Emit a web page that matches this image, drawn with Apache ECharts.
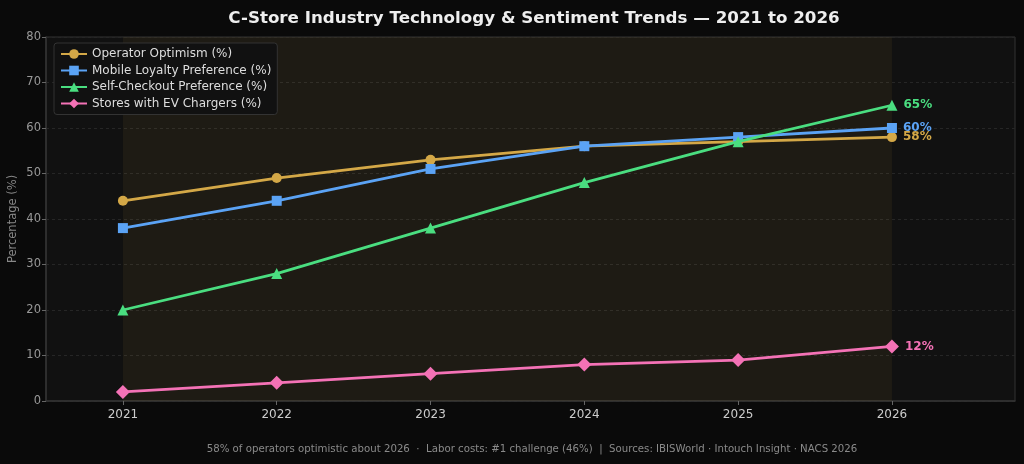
<!DOCTYPE html>
<html><head><meta charset="utf-8">
<script src="https://cdn.jsdelivr.net/npm/echarts@6/dist/echarts.min.js"></script>
<style>html,body{margin:0;padding:0;background:#0a0a0a;}#c{width:1024px;height:464px;}</style>
</head><body><div id="c"></div>
<script>
const years = [2021, 2022, 2023, 2024, 2025, 2026];
const optimism = [44, 49, 53, 56, 57, 58];
const mobile = [38, 44, 51, 56, 58, 60];
const selfCheckout = [20, 28, 38, 48, 57, 65];
const evChargers = [2, 4, 6, 8, 9, 12];
const yTicks = [0, 10, 20, 30, 40, 50, 60, 70, 80];

const F = '"DejaVu Sans"';
const defs = [
  {name: 'Operator Optimism (%)', data: optimism, color: '#d4a847', symbol: 'circle', size: 10},
  {name: 'Mobile Loyalty Preference (%)', data: mobile, color: '#5ba3f5', symbol: 'rect', size: 10},
  {name: 'Self-Checkout Preference (%)', data: selfCheckout, color: '#4ade80', symbol: 'triangle', size: 11},
  {name: 'Stores with EV Chargers (%)', data: evChargers, color: '#f472b6', symbol: 'diamond', size: 14}
];
const series = defs.map((d, i) => ({
  name: d.name, type: 'line', symbol: d.symbol, symbolSize: d.size,
  data: years.map((y, j) => [y, d.data[j]]),
  lineStyle: {color: d.color, width: 2.8},
  itemStyle: {color: d.color},
  z: 3 + i,
  label: {
    show: true, position: 'right', distance: 6,
    formatter: p => p.dataIndex === years.length - 1 ? p.value[1] + '%' : '',
    color: d.color, fontFamily: F, fontWeight: 'bold', fontSize: 12
  },
  markArea: i === 0 ? {
    silent: true,
    itemStyle: {color: 'rgba(212,168,71,0.07)'},
    data: [[{xAxis: years[0]}, {xAxis: years[years.length - 1]}]]
  } : undefined
}));

const chart = echarts.init(document.getElementById('c'));
chart.setOption({
  backgroundColor: '#0a0a0a',
  animation: false,
  title: {
    text: 'C-Store Industry Technology & Sentiment Trends — 2021 to 2026',
    left: 529, top: 5, textAlign: 'center',
    textStyle: {color: '#eeeeee', fontFamily: F, fontWeight: 'bold', fontSize: 16.7}
  },
  graphic: [{
    type: 'text', x: 532, y: 444,
    style: {
      text: '58% of operators optimistic about 2026  ·  Labor costs: #1 challenge (46%)  |  Sources: IBISWorld · Intouch Insight · NACS 2026',
      fill: '#8a8a8a', font: '10.2px "DejaVu Sans"', align: 'center'
    }
  }],
  legend: {
    orient: 'vertical', left: 54, top: 43,
    backgroundColor: '#111111', borderColor: '#333333', borderWidth: 1, borderRadius: 3,
    padding: [5, 6, 5, 6], itemGap: 4.5, itemWidth: 26, itemHeight: 12,
    textStyle: {color: '#dddddd', fontFamily: F, fontSize: 12}
  },
  grid: {left: 46, right: 9, top: 37, bottom: 63, outerBoundsMode: 'none', show: true, backgroundColor: '#111111', borderColor: '#333333', borderWidth: 1},
  xAxis: {
    type: 'value', min: 2020.5, max: 2026.8,
    axisLine: {show: true, onZero: false, lineStyle: {color: '#333333', width: 1.5}},
    axisTick: {show: true, customValues: years, length: 4, lineStyle: {color: '#666666'}},
    axisLabel: {customValues: years, color: '#cccccc', fontFamily: F, fontSize: 12, margin: 8, formatter: v => String(v)},
    splitLine: {show: false}
  },
  yAxis: {
    type: 'value', min: 0, max: 80, interval: 10,
    name: 'Percentage (%)', nameLocation: 'middle', nameGap: 27, nameMoveOverlap: false,
    nameTextStyle: {color: '#888888', fontFamily: F, fontSize: 11.5},
    axisLine: {show: true, lineStyle: {color: '#333333', width: 1.5}},
    axisTick: {show: true, length: 4, lineStyle: {color: '#666666'}},
    axisLabel: {color: '#999999', fontFamily: F, fontSize: 11.5, margin: 5, formatter: v => yTicks.includes(v) ? String(v) : ''},
    splitLine: {show: true, lineStyle: {color: '#262626', type: [3, 3], width: 1}}
  },
  series: series
});
</script></body></html>
